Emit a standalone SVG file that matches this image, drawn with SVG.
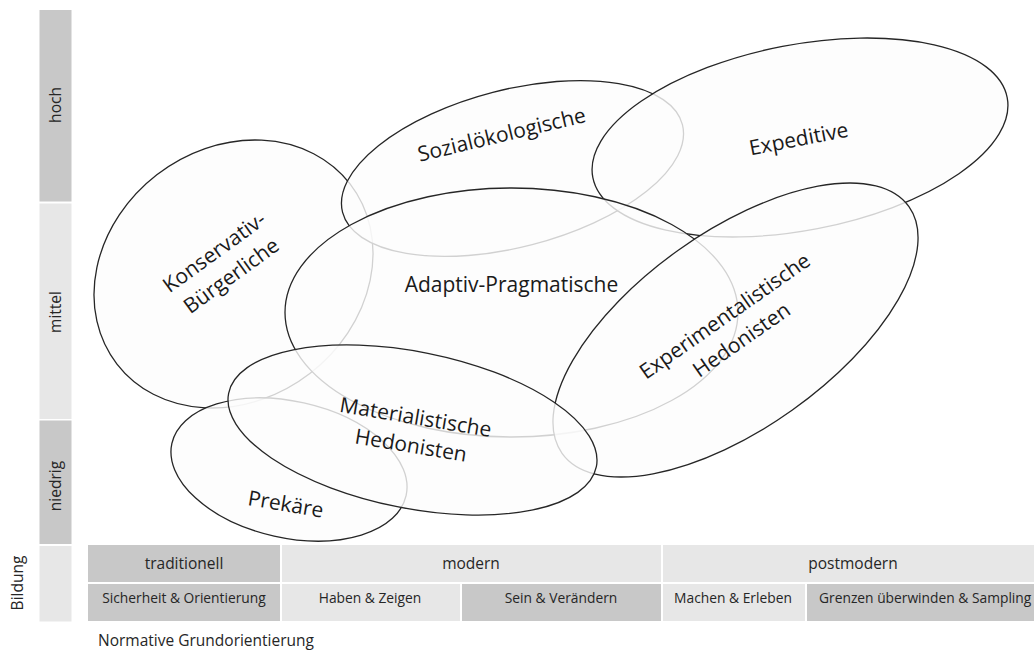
<svg xmlns="http://www.w3.org/2000/svg" width="1034" height="653" viewBox="0 0 1034 653">
<style>
.bg{fill:#ffffff}
.dk{fill:#c8c8c8}
.lt{fill:#e7e7e7}
.el{fill:#fdfdfd;fill-opacity:0.8;stroke:#262626;stroke-width:1.3}
.lbl{font-family:"Open Sans","Noto Sans","Liberation Sans",sans-serif;font-size:21px;fill:#1a1a1a;text-anchor:middle}
.ax{font-family:"Open Sans","Noto Sans","Liberation Sans",sans-serif;font-size:15.5px;fill:#262626;text-anchor:middle}
.r1{font-family:"Open Sans","Noto Sans","Liberation Sans",sans-serif;font-size:15.5px;fill:#262626;text-anchor:middle}
.r2{font-family:"Open Sans","Noto Sans","Liberation Sans",sans-serif;font-size:13.8px;fill:#262626;text-anchor:middle}
</style>
<rect class="bg" x="0" y="0" width="1034" height="653"/>

<g id="axis-bildung">
  <rect class="dk" x="39.5" y="10" width="32" height="191.5"/>
  <rect class="lt" x="39.5" y="203.5" width="32" height="215.5"/>
  <rect class="dk" x="39.5" y="420.5" width="32" height="123.5"/>
  <rect class="lt" x="39.5" y="546" width="32" height="75.5"/>
  <text class="ax" transform="translate(61,105) rotate(-90)">hoch</text>
  <text class="ax" transform="translate(61,312) rotate(-90)">mittel</text>
  <text class="ax" transform="translate(61,486) rotate(-90)">niedrig</text>
  <text class="ax" transform="translate(23,583) rotate(-90)">Bildung</text>
</g>

<g id="axis-grundorientierung">
  <rect class="dk" x="88" y="545" width="192" height="37"/>
  <rect class="lt" x="282" y="545" width="379" height="37"/>
  <rect class="lt" x="663" y="545" width="380" height="37"/>
  <rect class="dk" x="88" y="584" width="192" height="37"/>
  <rect class="lt" x="282" y="584" width="178" height="37"/>
  <rect class="dk" x="462" y="584" width="199" height="37"/>
  <rect class="lt" x="663" y="584" width="142" height="37"/>
  <rect class="dk" x="807" y="584" width="236" height="37"/>
  <text class="r1" x="184" y="568.5">traditionell</text>
  <text class="r1" x="471" y="568.5">modern</text>
  <text class="r1" x="853" y="568.5">postmodern</text>
  <text class="r2" x="184" y="602.5">Sicherheit &amp; Orientierung</text>
  <text class="r2" x="370" y="602.5">Haben &amp; Zeigen</text>
  <text class="r2" x="561" y="602.5">Sein &amp; Verändern</text>
  <text class="r2" x="733" y="602.5">Machen &amp; Erleben</text>
  <text class="r2" x="819" y="602.5" style="text-anchor:start">Grenzen überwinden &amp; Sampling</text>
  <text class="r1" x="98" y="646" style="text-anchor:start">Normative Grundorientierung</text>
</g>

<g id="konservativ-buergerliche">
  <ellipse class="el" cx="233.5" cy="274" rx="147.3" ry="125.4" transform="rotate(-37.7 233.5 274)"/>
  <text class="lbl" transform="translate(218.5,258) rotate(-36)"><tspan x="0" y="0">Konservativ-</tspan><tspan x="0" y="29">Bürgerliche</tspan></text>
</g>

<g id="sozialoekologische">
  <ellipse class="el" cx="512.5" cy="168.5" rx="175.5" ry="78.7" transform="rotate(-14.5 512.5 168.5)"/>
  <text class="lbl" transform="translate(503.3,141.7) rotate(-13.5)">Sozialökologische</text>
</g>

<g id="expeditive">
  <ellipse class="el" cx="800" cy="137.5" rx="211" ry="92.8" transform="rotate(-10.9 800 137.5)"/>
  <text class="lbl" transform="translate(800,146) rotate(-11)">Expeditive</text>
</g>

<g id="adaptiv-pragmatische">
  <ellipse class="el" cx="511.5" cy="312.5" rx="226.5" ry="124.5"/>
  <text class="lbl" x="511.5" y="292">Adaptiv-Pragmatische</text>
</g>

<g id="prekaere">
  <ellipse class="el" cx="289" cy="469.5" rx="120" ry="68.2" transform="rotate(12.6 289 469.5)"/>
  <text class="lbl" transform="translate(284.5,511.3) rotate(9.5)">Prekäre</text>
</g>

<g id="experimentalistische-hedonisten">
  <ellipse class="el" cx="735.5" cy="330" rx="212.8" ry="98.2" transform="rotate(-35.4 735.5 330)"/>
  <text class="lbl" transform="translate(729,322) rotate(-35)"><tspan x="0" y="0">Experimentalistische</tspan><tspan x="0" y="29">Hedonisten</tspan></text>
</g>

<g id="materialistische-hedonisten">
  <ellipse class="el" cx="412.5" cy="430" rx="187.5" ry="78.2" transform="rotate(11.3 412.5 430)"/>
  <text class="lbl" transform="translate(414.5,424.4) rotate(9.5)"><tspan x="0" y="0">Materialistische</tspan><tspan x="0" y="28.5">Hedonisten</tspan></text>
</g>
</svg>
